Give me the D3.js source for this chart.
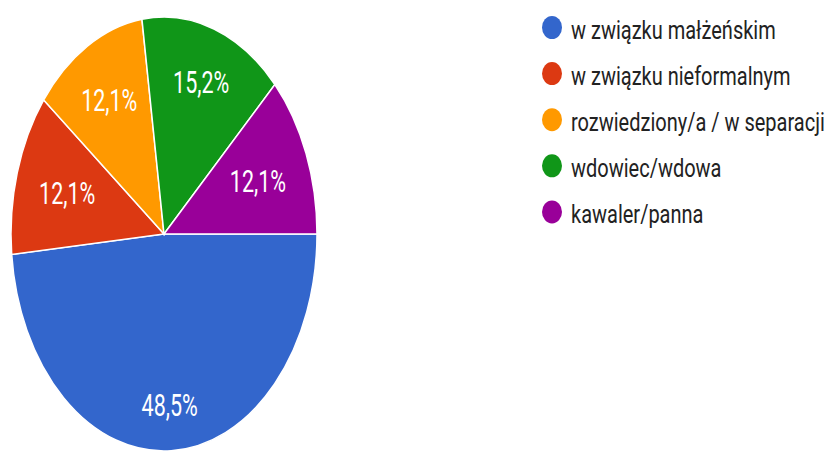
<!DOCTYPE html>
<html>
<head>
<meta charset="utf-8">
<script src="https://cdn.jsdelivr.net/npm/d3@7"></script>
<style>
  html, body { margin: 0; padding: 0; background: #fff; }
  svg { display: block; }
</style>
</head>
<body>
<script>
// categories and shares (percent)
const categories = [
  "w związku małżeńskim",
  "w związku nieformalnym",
  "rozwiedziony/a / w separacji",
  "wdowiec/wdowa",
  "kawaler/panna"
];
const values = [48.5, 12.1, 12.1, 15.2, 12.1];
const colors = ["#3366cc", "#dc3912", "#ff9900", "#109618", "#990099"];

const width = 829;
const height = 452;
const cx = 164, cy = 234;
const radius = 153;
const stretch = 1.418;   // the picture is squeezed vertically

const data = categories.map((c, i) => ({ name: c, value: values[i], color: colors[i] }));

const svg = d3.select("body")
  .append("svg")
  .attr("width", width)
  .attr("height", height);

const pie = d3.pie()
  .sort(null)
  .value(d => d.value)
  .startAngle(Math.PI / 2)
  .endAngle(Math.PI / 2 + 2 * Math.PI);

const arc = d3.arc().innerRadius(0).outerRadius(radius);

const g = svg.append("g")
  .attr("transform", `translate(${cx},${cy}) scale(1,${stretch})`);

const arcs = pie(data);

g.selectAll("path")
  .data(arcs)
  .join("path")
  .attr("d", arc)
  .attr("fill", d => d.data.color)
  .attr("stroke", "#fff")
  .attr("stroke-width", 1.5)
  .attr("vector-effect", "non-scaling-stroke");

// labels: pushed out until the text box reaches ~85% of the radius
const fs = 21.5;
const fmt = v => v.toFixed(1).replace(".", ",") + "%";

const labels = g.selectAll("text.lbl")
  .data(arcs)
  .join("text")
  .attr("class", "lbl")
  .attr("text-anchor", "middle")
  .attr("font-family", "Roboto, 'Liberation Sans', Arial, sans-serif")
  .attr("font-size", fs)
  .attr("fill", "#fff")
  .text(d => fmt(d.data.value));

labels.each(function(d) {
  const a = (d.startAngle + d.endAngle) / 2;
  const hw = this.getComputedTextLength() / 2;
  const hh = 0.711 * fs / 2;
  const s = Math.sin(a), c = Math.cos(a);
  const dist = 0.85 * radius - (hw * Math.abs(s) + hh * Math.abs(c));
  const x = dist * s;
  const y = -dist * c;
  d3.select(this).attr("x", x).attr("y", y + hh);
});

// legend
const legendX = 552, legendY = 27.5, legendStep = 46.1;

const legend = svg.append("g")
  .selectAll("g")
  .data(data)
  .join("g")
  .attr("transform", (d, i) => `translate(${legendX},${legendY + i * legendStep})`);

legend.append("ellipse")
  .attr("rx", 10)
  .attr("ry", 11.5)
  .attr("fill", d => d.color);

legend.append("text")
  .attr("transform", "translate(19,11.3) scale(1,1.25)")
  .attr("font-family", "Roboto, 'Liberation Sans', Arial, sans-serif")
  .attr("font-size", 20)
  .attr("fill", "#222")
  .text(d => d.name);
</script>
</body>
</html>
